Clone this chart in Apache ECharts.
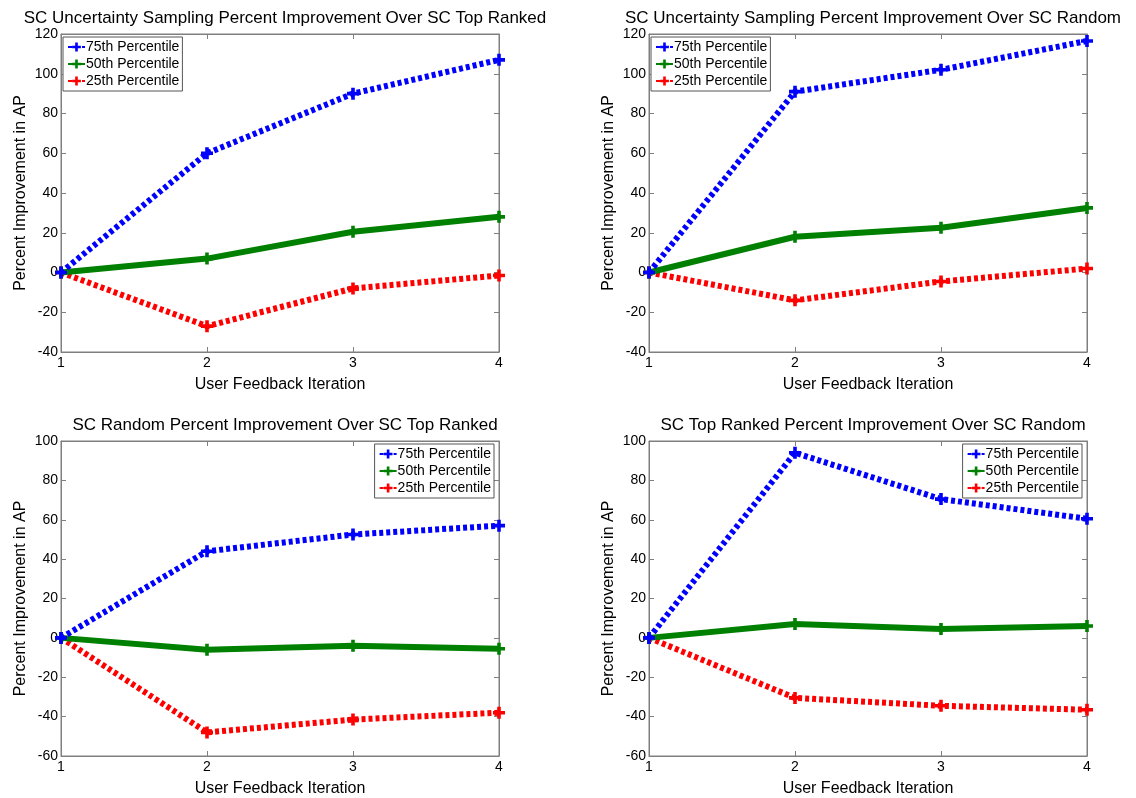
<!DOCTYPE html>
<html><head><meta charset="utf-8">
<script src="https://cdn.jsdelivr.net/npm/echarts@6/dist/echarts.min.js"></script>
<style>html,body{margin:0;padding:0;background:#fff}#c{width:1136px;height:798px}</style>
</head><body><div id="c"></div>
<script>
const iterations = [1, 2, 3, 4];
const seriesNames = ['75th Percentile', '50th Percentile', '25th Percentile'];
const titles = [
  'SC Uncertainty Sampling Percent Improvement Over SC Top Ranked',
  'SC Uncertainty Sampling Percent Improvement Over SC Random',
  'SC Random Percent Improvement Over SC Top Ranked',
  'SC Top Ranked Percent Improvement Over SC Random'
];
const p75 = [
  [0, 60, 90, 107],
  [0, 91, 102, 116.5],
  [0, 44, 52.5, 57],
  [0, 94, 70.5, 60.5]
];
const p50 = [
  [0, 7, 20.5, 28],
  [0, 18, 22.5, 32.5],
  [0, -6, -4, -5.5],
  [0, 7, 4.5, 6]
];
const p25 = [
  [0, -27, -8, -1.5],
  [0, -14, -4.5, 2],
  [0, -48, -41.5, -38],
  [0, -30.5, -34.5, -36.5]
];
const yMins = [-40, -40, -60, -60];
const yMaxs = [120, 120, 100, 100];
const xLabel = 'User Feedback Iteration';
const yLabel = 'Percent Improvement in AP';

const FONT = 'Liberation Sans, Arial, sans-serif';
const grids = [
  {left: 61, top: 34, width: 438, height: 318},
  {left: 649, top: 34, width: 438, height: 318},
  {left: 61, top: 441, width: 438, height: 315},
  {left: 649, top: 441, width: 438, height: 315}
];
const plus = 'path://M3.5,0H6.5V3.5H10V6.5H6.5V10H3.5V6.5H0V3.5H3.5Z';
const colors = ['#0000ff', '#008000', '#ff0000'];

const option = {
  animation: false,
  textStyle: {fontFamily: FONT},
  title: [], grid: [], xAxis: [], yAxis: [], series: [], legend: []
};
grids.forEach((g, i) => {
  option.grid.push(Object.assign({show: true, borderColor: '#7f7f7f', borderWidth: 1, backgroundColor: '#fff'}, g));
  option.title.push({
    text: titles[i], left: g.left + g.width / 2, top: g.top - 29, textAlign: 'center',
    textStyle: {fontFamily: FONT, fontSize: 17, fontWeight: 'normal', color: '#000'}
  });
  const axisCommon = () => ({
    axisLine: {show: true, onZero: false, lineStyle: {color: '#7f7f7f', width: 1}},
    axisTick: {show: true, inside: true, length: 5, lineStyle: {color: '#7f7f7f'}},
    splitLine: {show: false}
  });
  option.xAxis.push(Object.assign({
    type: 'value', gridIndex: i, min: 1, max: 4, interval: 1, position: 'bottom',
    name: xLabel, nameLocation: 'middle', nameGap: 25,
    nameTextStyle: {fontFamily: FONT, fontSize: 16, color: '#000'},
    axisLabel: {fontFamily: FONT, fontSize: 14, color: '#000', margin: 4}
  }, axisCommon()));
  option.xAxis.push(Object.assign({
    type: 'value', gridIndex: i, min: 1, max: 4, interval: 1, position: 'top',
    axisLabel: {show: false}
  }, axisCommon()));
  option.yAxis.push(Object.assign({
    type: 'value', gridIndex: i, min: yMins[i], max: yMaxs[i], interval: 20, position: 'left',
    name: yLabel, nameLocation: 'middle', nameGap: 32,
    nameTextStyle: {fontFamily: FONT, fontSize: 16, color: '#000'},
    axisLabel: {fontFamily: FONT, fontSize: 14, color: '#000', margin: 3}
  }, axisCommon()));
  option.yAxis.push(Object.assign({
    type: 'value', gridIndex: i, min: yMins[i], max: yMaxs[i], interval: 20, position: 'right',
    axisLabel: {show: false}
  }, axisCommon()));
  const data = [p75[i], p50[i], p25[i]];
  data.forEach((vals, k) => {
    option.series.push({
      type: 'line', name: seriesNames[k], xAxisIndex: i * 2, yAxisIndex: i * 2,
      data: iterations.map((x, j) => [x, vals[j]]),
      symbol: plus, symbolSize: 12, showSymbol: true,
      itemStyle: {color: colors[k]},
      lineStyle: {color: colors[k], width: 6, type: k === 1 ? 'solid' : [4, 3], cap: 'butt'},
      z: 3 - k
    });
  });
  const isTop = i < 2;
  const leg = {
    orient: 'vertical', itemGap: 3, itemWidth: 17, itemHeight: 11,
    padding: [3, 3, 3, 4],
    borderColor: '#555', borderWidth: 1, backgroundColor: '#fff',
    textStyle: {fontFamily: FONT, fontSize: 14, color: '#000', padding: [0, 0, 0, -4]},
    data: seriesNames.map(n => ({name: n})),
    top: g.top + 3
  };
  if (isTop) leg.left = g.left + 2; else leg.right = 1136 - (g.left + g.width) + 5;
  option.legend.push(leg);
});
const chart = echarts.init(document.getElementById('c'), null, {renderer: 'canvas'});
chart.setOption(option);
</script></body></html>
